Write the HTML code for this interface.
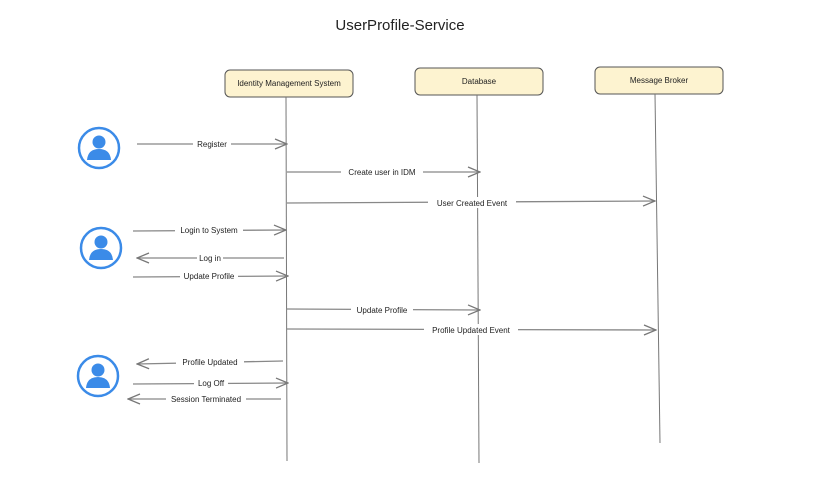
<!DOCTYPE html>
<html><head><meta charset="utf-8"><style>
html,body{margin:0;padding:0;background:#fff;}
svg{display:block;}
text{font-family:"Liberation Sans",sans-serif;fill:#222;}
</style></head><body>
<svg width="825" height="484" viewBox="0 0 825 484">
<defs>
<marker id="a" markerWidth="14" markerHeight="12" refX="13" refY="6" orient="auto" markerUnits="userSpaceOnUse">
<path d="M1,1 L13,6 L1,11" fill="none" stroke="#777" stroke-width="1.3"/>
</marker>
</defs>
<text x="400" y="30" font-size="15" text-anchor="middle">UserProfile-Service</text>
<g stroke="#555" stroke-width="1" fill="#fdf3d0">
<rect x="225" y="70" width="128" height="27" rx="5"/>
<rect x="415" y="68" width="128" height="27" rx="5"/>
<rect x="595" y="67" width="128" height="27" rx="5"/>
</g>
<g font-size="8" text-anchor="middle">
<text x="289" y="86">Identity Management System</text>
<text x="479" y="84">Database</text>
<text x="659" y="83">Message Broker</text>
</g>
<g stroke="#777" stroke-width="1">
<line x1="286" y1="97" x2="287" y2="461"/>
<line x1="477" y1="95" x2="479" y2="463"/>
<line x1="655" y1="94" x2="660" y2="443"/>
</g>
<g fill="none" stroke="#3b8be8" stroke-width="2.5">
<circle cx="99" cy="148" r="20"/>
<circle cx="101" cy="248" r="20"/>
<circle cx="98" cy="376" r="20"/>
</g>
<g fill="#3b8be8">
<circle cx="99" cy="142" r="6.5"/><path d="M87,160 Q88,149 99,149 Q110,149 111,160 Z"/>
<circle cx="101" cy="242" r="6.5"/><path d="M89,260 Q90,249 101,249 Q112,249 113,260 Z"/>
<circle cx="98" cy="370" r="6.5"/><path d="M86,388 Q87,377 98,377 Q109,377 110,388 Z"/>
</g>
<g stroke="#888" stroke-width="1.3" marker-end="url(#a)">
<line x1="137" y1="144" x2="287" y2="144"/>
<line x1="287" y1="172" x2="480" y2="172"/>
<line x1="287" y1="203" x2="655" y2="201"/>
<line x1="133" y1="231" x2="286" y2="230"/>
<line x1="284" y1="258" x2="137" y2="258"/>
<line x1="133" y1="277" x2="288" y2="276"/>
<line x1="287" y1="309" x2="480" y2="310"/>
<line x1="287" y1="329" x2="656" y2="330"/>
<line x1="283" y1="361" x2="137" y2="364"/>
<line x1="133" y1="384" x2="288" y2="383"/>
<line x1="281" y1="399" x2="128" y2="399"/>
</g>
<g font-size="8" text-anchor="middle">
<g fill="#fff"><rect x="193" y="138" width="38" height="11"/><rect x="341" y="166" width="82" height="11"/><rect x="428" y="197" width="88" height="11"/><rect x="175" y="224" width="68" height="11"/><rect x="197" y="252" width="26" height="11"/><rect x="180" y="270" width="58" height="11"/><rect x="351" y="304" width="62" height="11"/><rect x="424" y="324" width="94" height="11"/><rect x="176" y="356" width="68" height="11"/><rect x="194" y="377" width="34" height="11"/><rect x="166" y="393" width="80" height="11"/></g>
<text x="212" y="147">Register</text>
<text x="382" y="175">Create user in IDM</text>
<text x="472" y="206">User Created Event</text>
<text x="209" y="233">Login to System</text>
<text x="210" y="261">Log in</text>
<text x="209" y="279">Update Profile</text>
<text x="382" y="313">Update Profile</text>
<text x="471" y="333">Profile Updated Event</text>
<text x="210" y="365">Profile Updated</text>
<text x="211" y="386">Log Off</text>
<text x="206" y="402">Session Terminated</text>
</g>
</svg>
</body></html>
